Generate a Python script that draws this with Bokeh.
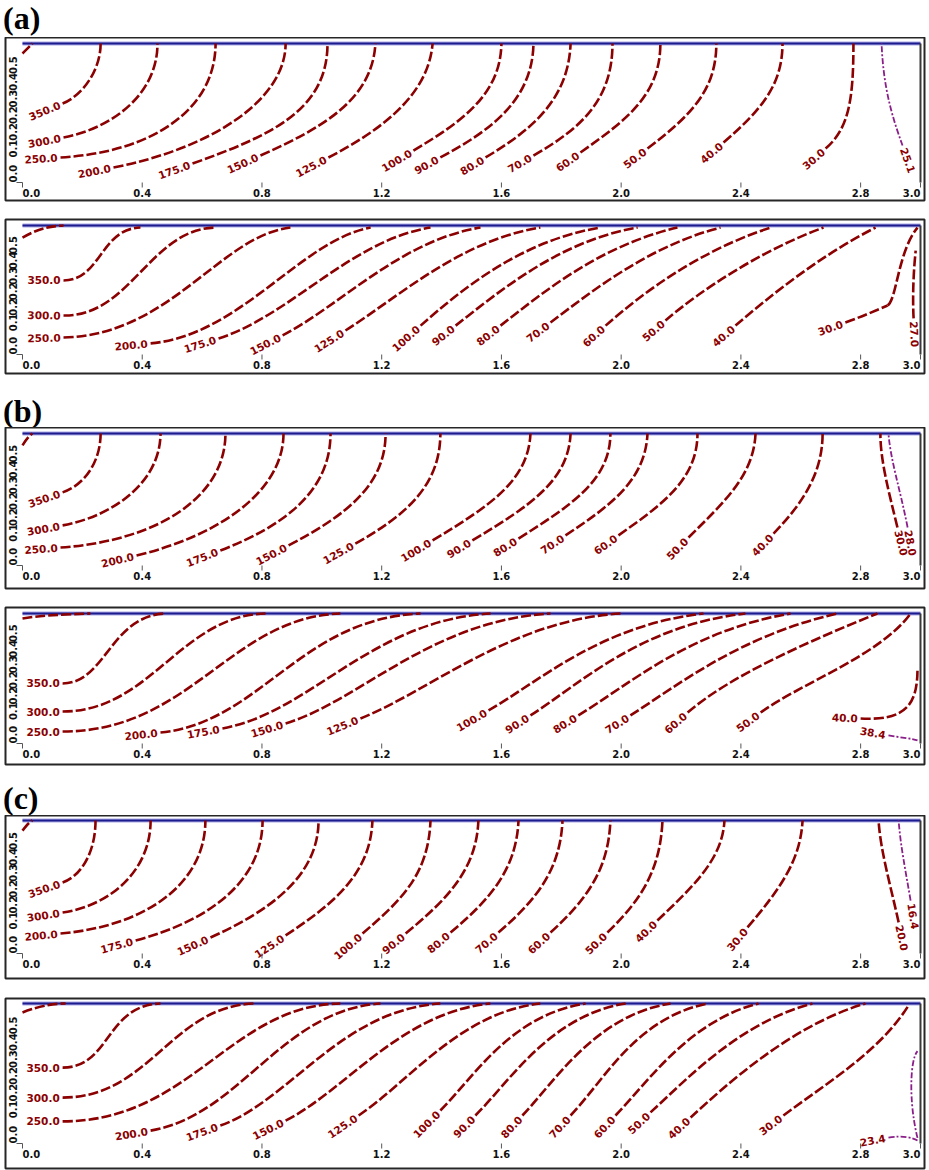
import math

from bokeh.core.properties import value
from bokeh.embed import file_html
from bokeh.layouts import column
from bokeh.models import Div, Range1d
from bokeh.plotting import figure
from bokeh.resources import INLINE

# ---------------------------------------------------------------- axes
X_TICKS = [0.0, 0.4, 0.8, 1.2, 1.6, 2.0, 2.4, 2.8, 3.0]
X_TICK_LABELS = ["0.0", "0.4", "0.8", "1.2", "1.6", "2.0", "2.4", "2.8", "3.0"]
Y_TICKS = [0.0, 0.09, 0.15, 0.21, 0.27, 0.33, 0.39]
Y_TICK_LABELS = ["0.0", "0.1", "0.2", "0.2", "0.3", "0.4", "0.5"]

# ---------------------------------------------------------------- contours
# one row per isoline piece: level, labelled end (x, y), two Bezier control
# points, far end (x, y).  An empty level marks an unlabelled isoline;
# a level that repeats is labelled only once (at its first piece).
A_TOP = [
    ("", 0.000, 0.464, 0.013, 0.478, 0.027, 0.493, 0.033, 0.500),
    ("350.0", 0.134, 0.284, 0.200, 0.313, 0.261, 0.403, 0.261, 0.500),
    ("300.0", 0.137, 0.162, 0.294, 0.194, 0.451, 0.313, 0.451, 0.500),
    ("250.0", 0.127, 0.090, 0.428, 0.108, 0.645, 0.259, 0.645, 0.500),
    ("200.0", 0.304, 0.054, 0.628, 0.122, 0.879, 0.295, 0.879, 0.500),
    ("175.0", 0.568, 0.068, 0.829, 0.169, 1.019, 0.259, 1.019, 0.500),
    ("150.0", 0.795, 0.097, 0.996, 0.194, 1.169, 0.295, 1.179, 0.500),
    ("125.0", 1.022, 0.090, 1.196, 0.187, 1.356, 0.313, 1.370, 0.500),
    ("100.0", 1.306, 0.115, 1.463, 0.216, 1.597, 0.313, 1.600, 0.500),
    ("90.0", 1.396, 0.090, 1.563, 0.187, 1.704, 0.295, 1.707, 0.500),
    ("80.0", 1.547, 0.090, 1.697, 0.187, 1.824, 0.295, 1.831, 0.500),
    ("70.0", 1.707, 0.097, 1.864, 0.194, 1.971, 0.295, 1.971, 0.500),
    ("60.0", 1.864, 0.108, 2.015, 0.223, 2.131, 0.313, 2.131, 0.500),
    ("50.0", 2.088, 0.122, 2.232, 0.241, 2.318, 0.331, 2.318, 0.500),
    ("40.0", 2.342, 0.144, 2.466, 0.259, 2.539, 0.349, 2.539, 0.500),
    ("30.0", 2.683, 0.122, 2.760, 0.194, 2.776, 0.295, 2.776, 0.500),
    ("25.1", 2.940, 0.133, 2.910, 0.223, 2.876, 0.331, 2.870, 0.500),
]
A_TOP_LOW = ["25.1"]

A_BOTTOM = [
    ("", 0.000, 0.453, 0.043, 0.481, 0.077, 0.496, 0.137, 0.500),
    ("350.0", 0.137, 0.287, 0.261, 0.287, 0.261, 0.488, 0.394, 0.492),
    ("300.0", 0.137, 0.151, 0.361, 0.147, 0.428, 0.488, 0.645, 0.492),
    ("250.0", 0.137, 0.066, 0.494, 0.074, 0.661, 0.461, 0.895, 0.492),
    ("200.0", 0.428, 0.043, 0.728, 0.074, 0.929, 0.442, 1.163, 0.492),
    ("175.0", 0.655, 0.062, 0.895, 0.151, 1.096, 0.442, 1.363, 0.492),
    ("150.0", 0.869, 0.074, 1.062, 0.190, 1.263, 0.442, 1.530, 0.492),
    ("125.0", 1.079, 0.093, 1.263, 0.229, 1.463, 0.442, 1.730, 0.492),
    ("100.0", 1.330, 0.112, 1.463, 0.248, 1.664, 0.442, 1.931, 0.492),
    ("90.0", 1.447, 0.112, 1.597, 0.248, 1.797, 0.442, 2.055, 0.492),
    ("80.0", 1.597, 0.112, 1.747, 0.248, 1.931, 0.422, 2.188, 0.492),
    ("70.0", 1.764, 0.124, 1.914, 0.256, 2.098, 0.422, 2.332, 0.492),
    ("60.0", 1.948, 0.112, 2.081, 0.248, 2.265, 0.403, 2.499, 0.492),
    ("50.0", 2.148, 0.132, 2.265, 0.248, 2.466, 0.403, 2.676, 0.492),
    ("40.0", 2.382, 0.112, 2.499, 0.229, 2.666, 0.384, 2.850, 0.492),
    ("30.0", 2.749, 0.124, 2.800, 0.145, 2.850, 0.170, 2.890, 0.190),
    ("30.0", 2.890, 0.190, 2.920, 0.210, 2.925, 0.400, 2.990, 0.492),
    ("27.0", 2.977, 0.140, 2.973, 0.229, 2.977, 0.326, 2.984, 0.403),
]
A_BOTTOM_LOW = []

B_TOP = [
    ("", 0.000, 0.455, 0.010, 0.473, 0.020, 0.489, 0.033, 0.500),
    ("350.0", 0.134, 0.277, 0.211, 0.307, 0.261, 0.398, 0.261, 0.500),
    ("300.0", 0.134, 0.152, 0.311, 0.189, 0.461, 0.322, 0.461, 0.500),
    ("250.0", 0.127, 0.068, 0.461, 0.095, 0.678, 0.265, 0.678, 0.500),
    ("200.0", 0.381, 0.038, 0.661, 0.114, 0.872, 0.284, 0.872, 0.500),
    ("175.0", 0.661, 0.057, 0.879, 0.152, 1.029, 0.284, 1.029, 0.500),
    ("150.0", 0.889, 0.076, 1.079, 0.189, 1.213, 0.303, 1.213, 0.500),
    ("125.0", 1.112, 0.083, 1.280, 0.189, 1.396, 0.303, 1.396, 0.500),
    ("100.0", 1.370, 0.095, 1.563, 0.227, 1.690, 0.322, 1.697, 0.500),
    ("90.0", 1.503, 0.095, 1.697, 0.227, 1.824, 0.322, 1.831, 0.500),
    ("80.0", 1.657, 0.102, 1.831, 0.227, 1.964, 0.322, 1.964, 0.500),
    ("70.0", 1.814, 0.114, 1.964, 0.227, 2.081, 0.322, 2.088, 0.500),
    ("60.0", 1.991, 0.114, 2.131, 0.227, 2.255, 0.322, 2.255, 0.500),
    ("50.0", 2.225, 0.106, 2.349, 0.246, 2.442, 0.341, 2.449, 0.500),
    ("40.0", 2.509, 0.121, 2.616, 0.246, 2.673, 0.360, 2.673, 0.500),
    ("30.0", 2.923, 0.144, 2.893, 0.284, 2.866, 0.398, 2.866, 0.500),
    ("28.0", 2.957, 0.144, 2.933, 0.284, 2.900, 0.398, 2.893, 0.500),
]
B_TOP_LOW = ["28.0"]

B_BOTTOM = [
    ("", 0.000, 0.481, 0.060, 0.492, 0.127, 0.496, 0.227, 0.500),
    ("350.0", 0.134, 0.231, 0.277, 0.231, 0.294, 0.492, 0.478, 0.500),
    ("300.0", 0.134, 0.123, 0.428, 0.123, 0.528, 0.492, 0.812, 0.500),
    ("250.0", 0.134, 0.046, 0.561, 0.046, 0.695, 0.485, 1.062, 0.500),
    ("200.0", 0.461, 0.042, 0.795, 0.081, 0.929, 0.481, 1.330, 0.500),
    ("175.0", 0.668, 0.058, 0.962, 0.119, 1.163, 0.473, 1.564, 0.500),
    ("150.0", 0.879, 0.077, 1.129, 0.165, 1.363, 0.473, 1.764, 0.500),
    ("125.0", 1.129, 0.096, 1.363, 0.204, 1.630, 0.473, 1.998, 0.500),
    ("100.0", 1.557, 0.127, 1.730, 0.242, 1.931, 0.454, 2.275, 0.500),
    ("90.0", 1.697, 0.108, 1.864, 0.231, 2.065, 0.454, 2.415, 0.500),
    ("80.0", 1.857, 0.108, 2.031, 0.231, 2.232, 0.435, 2.566, 0.500),
    ("70.0", 2.031, 0.108, 2.198, 0.231, 2.399, 0.415, 2.723, 0.500),
    ("60.0", 2.222, 0.119, 2.365, 0.262, 2.633, 0.396, 2.856, 0.500),
    ("50.0", 2.466, 0.119, 2.599, 0.231, 2.866, 0.339, 2.967, 0.500),
    ("40.0", 2.800, 0.096, 2.950, 0.088, 2.990, 0.146, 2.990, 0.288),
    ("38.4", 2.893, 0.031, 2.933, 0.023, 2.973, 0.019, 2.990, 0.012),
]
B_BOTTOM_LOW = ["38.4"]

C_TOP = [
    ("", 0.000, 0.462, 0.010, 0.477, 0.020, 0.492, 0.033, 0.500),
    ("350.0", 0.134, 0.267, 0.200, 0.293, 0.244, 0.387, 0.244, 0.500),
    ("300.0", 0.134, 0.154, 0.294, 0.181, 0.428, 0.312, 0.428, 0.500),
    ("200.0", 0.127, 0.075, 0.428, 0.105, 0.611, 0.274, 0.611, 0.500),
    ("175.0", 0.378, 0.049, 0.628, 0.124, 0.802, 0.274, 0.802, 0.500),
    ("150.0", 0.628, 0.060, 0.829, 0.162, 0.989, 0.293, 0.989, 0.500),
    ("125.0", 0.879, 0.068, 1.029, 0.180, 1.163, 0.293, 1.169, 0.500),
    ("100.0", 1.136, 0.075, 1.263, 0.199, 1.356, 0.293, 1.363, 0.500),
    ("90.0", 1.280, 0.075, 1.413, 0.199, 1.517, 0.312, 1.523, 0.500),
    ("80.0", 1.430, 0.079, 1.557, 0.199, 1.650, 0.312, 1.657, 0.500),
    ("70.0", 1.590, 0.079, 1.714, 0.199, 1.797, 0.312, 1.804, 0.500),
    ("60.0", 1.764, 0.079, 1.881, 0.199, 1.958, 0.312, 1.964, 0.500),
    ("50.0", 1.954, 0.079, 2.065, 0.199, 2.131, 0.312, 2.138, 0.500),
    ("40.0", 2.121, 0.124, 2.232, 0.244, 2.339, 0.350, 2.345, 0.500),
    ("30.0", 2.422, 0.098, 2.532, 0.244, 2.599, 0.350, 2.606, 0.500),
    ("20.0", 2.927, 0.117, 2.900, 0.256, 2.866, 0.387, 2.860, 0.500),
    ("16.4", 2.967, 0.199, 2.950, 0.312, 2.933, 0.406, 2.927, 0.500),
]
C_TOP_LOW = ["16.4"]

C_BOTTOM = [
    ("", 0.000, 0.468, 0.060, 0.493, 0.110, 0.500, 0.144, 0.500),
    ("350.0", 0.134, 0.271, 0.294, 0.271, 0.277, 0.493, 0.461, 0.500),
    ("300.0", 0.134, 0.164, 0.428, 0.164, 0.495, 0.493, 0.778, 0.500),
    ("250.0", 0.134, 0.079, 0.561, 0.079, 0.695, 0.493, 1.062, 0.500),
    ("200.0", 0.428, 0.046, 0.728, 0.100, 0.862, 0.475, 1.196, 0.500),
    ("175.0", 0.661, 0.064, 0.895, 0.154, 1.062, 0.475, 1.396, 0.500),
    ("150.0", 0.879, 0.082, 1.079, 0.189, 1.263, 0.468, 1.563, 0.500),
    ("125.0", 1.123, 0.100, 1.296, 0.225, 1.463, 0.468, 1.730, 0.500),
    ("100.0", 1.396, 0.118, 1.513, 0.243, 1.630, 0.457, 1.881, 0.500),
    ("90.0", 1.513, 0.100, 1.630, 0.225, 1.764, 0.457, 2.015, 0.500),
    ("80.0", 1.670, 0.100, 1.781, 0.225, 1.914, 0.457, 2.165, 0.500),
    ("70.0", 1.831, 0.100, 1.948, 0.232, 2.048, 0.446, 2.288, 0.500),
    ("60.0", 1.981, 0.100, 2.098, 0.232, 2.232, 0.439, 2.459, 0.500),
    ("50.0", 2.098, 0.111, 2.232, 0.243, 2.399, 0.432, 2.639, 0.500),
    ("40.0", 2.232, 0.093, 2.349, 0.207, 2.566, 0.421, 2.816, 0.500),
    ("30.0", 2.542, 0.100, 2.699, 0.225, 2.866, 0.332, 2.960, 0.493),
    ("23.4", 2.893, 0.021, 2.940, 0.030, 2.975, 0.020, 2.990, 0.011),
    ("23.4", 2.990, 0.020, 2.960, 0.150, 2.965, 0.300, 2.990, 0.330),
]
C_BOTTOM_LOW = ["23.4"]

# ---------------------------------------------------------------- styling
LINE_RED = "#8b0000"
LINE_LOW = "#8a1f8a"
LABEL_RED = "#8b0000"
TOP_DARK = "#1c1c8e"
TOP_LIGHT = "#a9a9e6"

FIG_W = 929
FRAME_LEFT, FRAME_RIGHT = 5, 924
PX_PER_X = 299.33
X_LO = -17 / PX_PER_X
X_HI = X_LO + (FRAME_RIGHT - FRAME_LEFT) / PX_PER_X

# border above, frame height, border below, pixels below y=0, pixels per unit y
PANEL_GEOMETRY = [
    (0, 163, 9, 18, 278),
    (10, 154, 10, 19, 258),
    (0, 161, 9, 23, 264),
    (10, 157, 10, 21, 260),
    (0, 163, 10, 25, 266),
    (10, 170, 2, 25, 280),
]


def text_width(s, digit=7.3, dot=3.8):
    return sum(digit if ch.isdigit() else dot for ch in s)


def make_panel(rows, low_levels, geom):
    top, fh, bottom, below0, sy = geom
    y_lo = -below0 / sy
    y_hi = y_lo + fh / sy
    p = figure(
        width=FIG_W, height=top + fh + bottom,
        x_range=Range1d(X_LO, X_HI), y_range=Range1d(y_lo, y_hi),
        x_axis_location=None, y_axis_location=None,
        output_backend="svg", toolbar_location=None,
        min_border_left=FRAME_LEFT, min_border_right=FIG_W - FRAME_RIGHT,
        min_border_top=top, min_border_bottom=bottom,
    )
    p.xgrid.visible = False
    p.ygrid.visible = False
    p.outline_line_color = "#262626"
    p.outline_line_width = 2
    p.background_fill_color = "white"
    p.border_fill_color = "white"

    # top boundary (double blue line) and right wall
    p.line([0.0, 3.0], [0.5, 0.5], line_color=TOP_LIGHT, line_width=4)
    p.line([0.0, 3.0], [0.5, 0.5], line_color=TOP_DARK, line_width=2)
    p.line([3.0, 3.0], [0.0, 0.5], line_color="#3a3a3a", line_width=2)

    # isolines
    for lvl, x0, y0, cx0, cy0, cx1, cy1, x1, y1 in rows:
        low = lvl != "" and lvl in low_levels
        p.bezier(x0=[x0], y0=[y0], x1=[x1], y1=[y1],
                 cx0=[cx0], cy0=[cy0], cx1=[cx1], cy1=[cy1],
                 line_color=LINE_LOW if low else LINE_RED,
                 line_width=1.8 if low else 2.6,
                 line_dash="6 2 2 2" if low else "10 3")

    # isoline labels, placed just beyond the labelled end along its tangent
    lx, ly, lt, la = [], [], [], []
    for lvl, x0, y0, cx0, cy0, cx1, cy1, x1, y1 in rows:
        if not lvl or lvl in lt:
            continue
        dxp = (cx0 - x0) * PX_PER_X
        dyp = (cy0 - y0) * sy
        n = math.hypot(dxp, dyp)
        ux, uy = dxp / n, dyp / n
        off = text_width(lvl) / 2 + 3
        ang = math.atan2(dyp, dxp)
        if ang > math.pi / 2 + 1e-6:
            ang -= math.pi
        elif ang < -math.pi / 2:
            ang += math.pi
        lx.append(x0 - ux * off / PX_PER_X)
        ly.append(y0 - uy * off / sy)
        lt.append(lvl)
        la.append(ang)
    p.text(lx, ly, lt, angle=la, text_align="center", text_baseline="middle",
           text_font=value("DejaVu Sans"), text_font_size="10.5px",
           text_font_style="bold", text_color=LABEL_RED)

    # x tick marks and labels
    tick_len = 5 / sy
    p.segment(X_TICKS, [0.0] * len(X_TICKS), X_TICKS, [-tick_len] * len(X_TICKS),
              line_color="#555555", line_width=1)
    lab_kw = dict(text_baseline="middle", text_font=value("DejaVu Sans"),
                  text_font_size="10px", text_font_style="bold",
                  text_color="#111111", y_offset=10)
    p.text(X_TICKS[:1], [0.0], X_TICK_LABELS[:1], text_align="left", **lab_kw)
    p.text(X_TICKS[1:-1], [0.0] * (len(X_TICKS) - 2), X_TICK_LABELS[1:-1],
           text_align="center", **lab_kw)
    p.text(X_TICKS[-1:], [0.0], X_TICK_LABELS[-1:], text_align="right", **lab_kw)

    # y tick labels, rotated, written upwards from each tick
    ylab_x = -10 / PX_PER_X
    p.text([ylab_x] * len(Y_TICKS), Y_TICKS, Y_TICK_LABELS, angle=math.pi / 2,
           text_align="left", text_baseline="middle",
           text_font=value("DejaVu Sans"), text_font_size="10px",
           text_font_style="bold", text_color="#111111")
    p.segment([-6 / PX_PER_X], [0.0], [0.0], [0.0], line_color="#555555", line_width=1)
    return p


def heading(label, height, pad_top):
    html = (f'<div style="font-family: \'Liberation Serif\', serif; font-weight: bold; '
            f'font-size: 32px; line-height: 32px; padding-top: {pad_top}px; '
            f'padding-left: 3px; color: #000;">{label}</div>')
    return Div(text=html, width=FIG_W, height=height, margin=(0, 0, 0, 0))


panels = [A_TOP, A_BOTTOM, B_TOP, B_BOTTOM, C_TOP, C_BOTTOM]
lows = [A_TOP_LOW, A_BOTTOM_LOW, B_TOP_LOW, B_BOTTOM_LOW, C_TOP_LOW, C_BOTTOM_LOW]
figs = [make_panel(r, lo, g) for r, lo, g in zip(panels, lows, PANEL_GEOMETRY)]

page = column(
    heading("(a)", 37, 2), figs[0], figs[1],
    heading("(b)", 44, 12), figs[2], figs[3],
    heading("(c)", 41, 8), figs[4], figs[5],
    spacing=0,
)

open("out.html", "w").write(file_html(page, INLINE))
